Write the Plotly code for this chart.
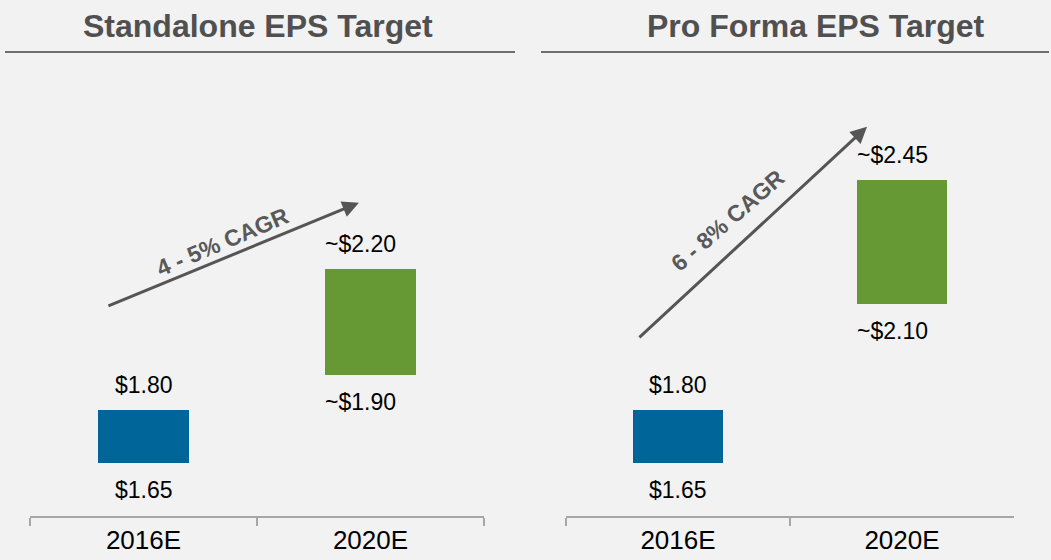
import plotly.graph_objects as go

# ---- data ----
categories = ["2016E", "2020E"]
standalone_low = [1.65, 1.90]
standalone_high = [1.80, 2.20]
proforma_low = [1.65, 2.10]
proforma_high = [1.80, 2.45]
standalone_high_labels = ["$1.80", "~$2.20"]
standalone_low_labels = ["$1.65", "~$1.90"]
proforma_high_labels = ["$1.80", "~$2.45"]
proforma_low_labels = ["$1.65", "~$2.10"]
bar_colors = ["#006699", "#669933"]
panel_titles = ["Standalone EPS Target", "Pro Forma EPS Target"]
cagr_labels = ["4 - 5% CAGR", "6 - 8% CAGR"]

W, H = 1051, 560
BG = "#f2f2f2"
FONT = "Liberation Sans, Arial, sans-serif"
BAR_W = 0.4

fig = go.Figure()

panels = [
    ("x", "y", standalone_low, standalone_high, standalone_low_labels, standalone_high_labels),
    ("x2", "y2", proforma_low, proforma_high, proforma_low_labels, proforma_high_labels),
]


def label_pos(i, text):
    # "~" labels are left-aligned with the bar's left edge, others centred
    if text.startswith("~"):
        return dict(x=i - BAR_W / 2, xanchor="left", xshift=-2)
    return dict(x=i, xanchor="center")


annotations = []
for xa, ya, lo, hi, lo_lab, hi_lab in panels:
    fig.add_trace(go.Bar(
        x=categories,
        y=[h - l for h, l in zip(hi, lo)],
        base=lo,
        marker=dict(color=bar_colors, line=dict(width=0)),
        width=BAR_W,
        xaxis=xa, yaxis=ya,
        showlegend=False,
        hoverinfo="skip",
    ))
    for i, (l, h, ll, hl) in enumerate(zip(lo, hi, lo_lab, hi_lab)):
        annotations.append(dict(y=h, xref=xa, yref=ya, text=hl, showarrow=False,
                                yanchor="middle", yshift=25,
                                font=dict(family=FONT, size=23, color="#000000"),
                                **label_pos(i, hl)))
        annotations.append(dict(y=l, xref=xa, yref=ya, text=ll, showarrow=False,
                                yanchor="middle", yshift=-27,
                                font=dict(family=FONT, size=23, color="#000000"),
                                **label_pos(i, ll)))

# CAGR arrows (tail -> tip) and their labels, in axis coordinates
arrow_specs = [
    ("x", "y", (-0.161, 2.093), (0.949, 2.387), (0.346, 2.277), -23),
    ("x2", "y2", (-0.179, 2.002), (0.844, 2.602), (0.223, 2.339), -41),
]
for (xa, ya, tail, tip, lab, ang), text in zip(arrow_specs, cagr_labels):
    annotations.append(dict(x=tip[0], y=tip[1], ax=tail[0], ay=tail[1],
                            xref=xa, yref=ya, axref=xa, ayref=ya,
                            showarrow=True, arrowhead=2, arrowsize=1.1,
                            arrowwidth=3, arrowcolor="#555555", standoff=0,
                            startstandoff=0, text=""))
    annotations.append(dict(x=lab[0], y=lab[1], xref=xa, yref=ya, text=text,
                            showarrow=False, textangle=ang,
                            font=dict(family=FONT, size=23, color="#595959", weight="bold")))

# panel titles
for title, cx in zip(panel_titles, [257.5 / W, 815.5 / W]):
    annotations.append(dict(x=cx, y=1 - 26 / 516, xref="paper", yref="paper",
                            text="<b>" + title + "</b>", showarrow=False,
                            xanchor="center", yanchor="middle",
                            font=dict(family=FONT, size=32, color="#505050")))

shapes = [
    dict(type="line", xref="paper", yref="paper", x0=5 / W, x1=515 / W,
         y0=1 - 52 / 516, y1=1 - 52 / 516, line=dict(color="#6e6e6e", width=2)),
    dict(type="line", xref="paper", yref="paper", x0=541 / W, x1=1049 / W,
         y0=1 - 52 / 516, y1=1 - 52 / 516, line=dict(color="#6e6e6e", width=2)),
]

xaxis_common = dict(type="category", range=[-0.5, 1.5], showline=True,
                    linecolor="#a6a6a6", linewidth=2, ticks="outside",
                    tickson="boundaries", ticklen=8, tickcolor="#a6a6a6",
                    tickwidth=2, showgrid=False, zeroline=False, fixedrange=True,
                    tickfont=dict(family=FONT, size=26, color="#000000"))
yaxis_common = dict(range=[1.5, 2.961], visible=False, showgrid=False,
                    zeroline=False, fixedrange=True)

fig.update_layout(
    width=W, height=H,
    margin=dict(l=0, r=0, t=0, b=44, pad=0),
    paper_bgcolor=BG, plot_bgcolor=BG,
    xaxis=dict(domain=[30 / W, 484 / W], anchor="y", **xaxis_common),
    xaxis2=dict(domain=[566 / W, 1014 / W], anchor="y2", **xaxis_common),
    yaxis=dict(anchor="x", **yaxis_common),
    yaxis2=dict(anchor="x2", **yaxis_common),
    annotations=annotations,
    shapes=shapes,
    bargap=0,
)

fig.write_html("out.html", config={"displayModeBar": False},
               post_script="document.body.style.margin='0';document.body.style.overflow='hidden';")
